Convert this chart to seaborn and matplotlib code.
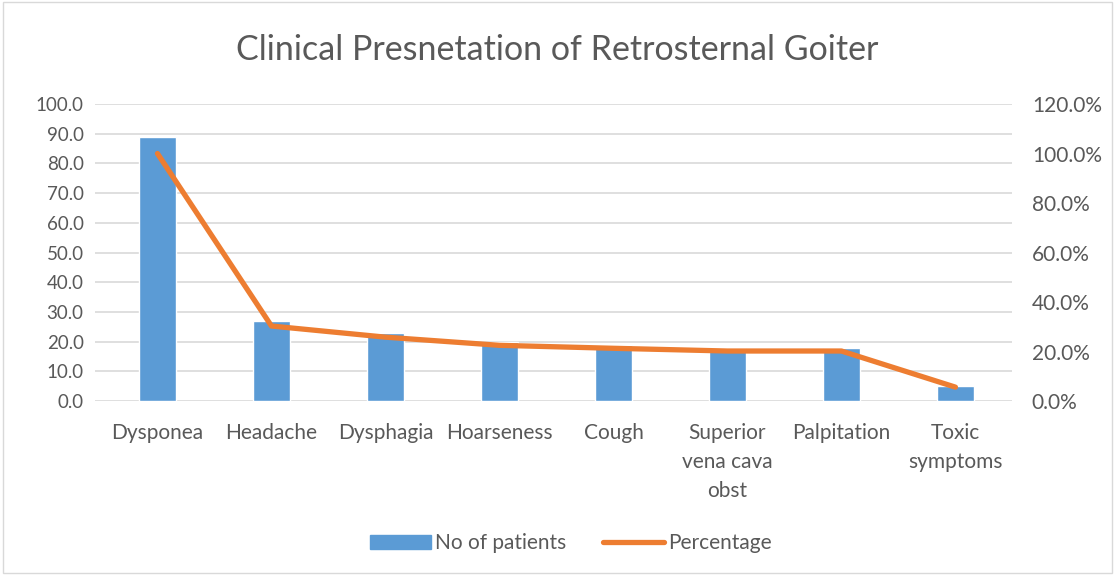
import pandas as pd
import seaborn as sns
import matplotlib.pyplot as plt
from matplotlib.patches import Rectangle
from matplotlib.lines import Line2D
from matplotlib.ticker import FuncFormatter

symptoms = ['Dysponea', 'Headache', 'Dysphagia', 'Hoarseness', 'Cough',
            'Superior\nvena cava\nobst', 'Palpitation', 'Toxic\nsymptoms']
patients = [89, 27, 23, 20, 19, 18, 18, 5]
percentage = [100.0, 30.3, 25.8, 22.5, 21.3, 20.2, 20.2, 5.6]

BAR = '#5B9BD5'
LINE = '#ED7D31'
TXT = '#595959'
GRID = '#D9D9D9'

df = pd.DataFrame({'symptom': symptoms, 'patients': patients, 'pct': percentage})

sns.set_style('white')
plt.rcParams['font.family'] = ['Lato', 'DejaVu Sans']

fig = plt.figure(figsize=(11.15, 5.75), dpi=100)
ax = fig.add_axes([0.085, 0.3026, 0.823, 0.5165])

sns.barplot(data=df, x='symptom', y='patients', color=BAR, width=0.32,
            saturation=1, ax=ax, zorder=2)
ax.set_ylim(0, 100)
ax.set_yticks(range(0, 101, 10))
ax.yaxis.set_major_formatter(FuncFormatter(lambda v, p: f'{v:.1f}'))
ax.grid(axis='y', color=GRID, linewidth=1.2, zorder=0)
ax.set_axisbelow(True)
ax.set_xlabel('')
ax.set_ylabel('')
ax.set_xlim(-0.55, 7.5)

ax2 = ax.twinx()
sns.lineplot(x=list(range(len(symptoms))), y=percentage, color=LINE,
             linewidth=3.8, ax=ax2, zorder=3)
ax2.set_ylim(0, 120)
ax2.set_yticks(range(0, 121, 20))
ax2.yaxis.set_major_formatter(FuncFormatter(lambda v, p: f'{v:.1f}%'))
ax2.set_ylabel('')

for a in (ax, ax2):
    for s in a.spines.values():
        s.set_visible(False)
    a.tick_params(length=0, labelsize=13.5, labelcolor=TXT, pad=8)
ax.set_xticks(range(len(symptoms)))
ax.set_xticklabels(symptoms, color=TXT, fontsize=15, linespacing=1.55, va='top')
ax.tick_params(axis='x', pad=16)
ax2.tick_params(axis='y', labelsize=15, pad=14)

fig.text(0.5, 0.913, 'Clinical Presnetation of Retrosternal Goiter',
         ha='center', va='center', fontsize=24.5, color=TXT)

handles = [Rectangle((0, 0), 1, 1, color=BAR),
           Line2D([0], [0], color=LINE, linewidth=3.8, solid_capstyle='round')]
fig.legend(handles, ['No of patients', 'Percentage'], loc='center',
           bbox_to_anchor=(0.512, 0.055), ncol=2, frameon=False,
           fontsize=15, labelcolor=TXT, handlelength=2.9, handletextpad=0.2,
           columnspacing=1.8)

fig.patches.append(Rectangle((0.003, 0.003), 0.994, 0.994, transform=fig.transFigure,
                             fill=False, edgecolor=GRID, linewidth=1))

fig.savefig('out.png', dpi=100)
